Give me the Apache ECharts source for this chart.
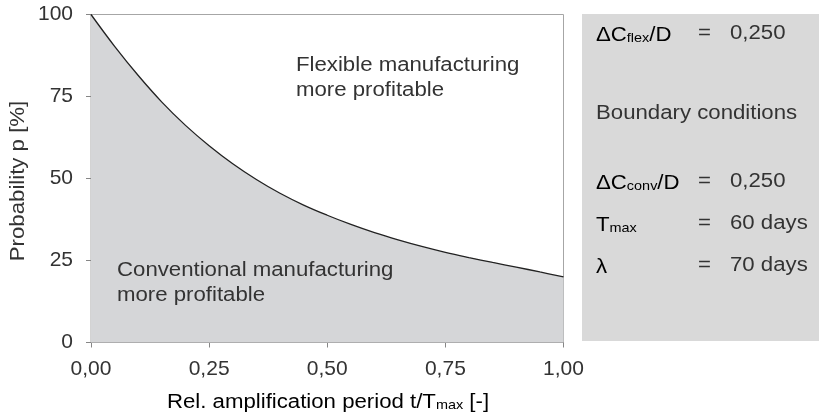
<!DOCTYPE html>
<html>
<head>
<meta charset="utf-8">
<script src="https://cdn.jsdelivr.net/npm/echarts@6/dist/echarts.min.js"></script>
<style>
  html, body { margin: 0; padding: 0; background: #fff; }
  #chart { width: 819px; height: 415px; }
</style>
</head>
<body>
<div id="chart"></div>
<script>
// Relative amplification period t/Tmax (x) and break-even probability p in % (y)
const periodRel = [0, 0.05, 0.10, 0.15, 0.20, 0.25, 0.30, 0.35, 0.40, 0.45, 0.50,
                   0.55, 0.60, 0.65, 0.70, 0.75, 0.80, 0.85, 0.90, 0.95, 1.00];
const probability = [100, 90.3, 81.4, 73.3, 66.2, 60.0, 54.5, 49.7, 45.5, 41.9, 38.8,
                     36.0, 33.5, 31.3, 29.3, 27.5, 25.9, 24.4, 23.0, 21.5, 20.0];

// Parameter box rows: label parts, value
const paramLabels = ['ΔC', 'ΔC', 'T', 'λ'];
const paramSubs = ['flex', 'conv', 'max', ''];
const paramSuffix = ['/D', '/D', '', ''];
const paramValues = ['0,250', '0,250', '60 days', '70 days'];

const FONT = '"Liberation Sans", Arial, sans-serif';
const TXT = '#333333';
const FS = 21;
const SX = 1.11;

const chart = echarts.init(document.getElementById('chart'), null, { renderer: 'canvas' });

const grid = { left: 91, right: 255.5, top: 14.5, bottom: 72.5 };

// main text plus lowered, smaller subscript fragments
const richSub = {
  m: { fontSize: FS - 1, fontFamily: FONT, color: TXT, lineHeight: 24, verticalAlign: 'bottom' },
  s: { fontSize: 13, fontFamily: FONT, color: TXT, lineHeight: 5, verticalAlign: 'bottom' }
};

function subText(i) {
  let t = '{m|' + paramLabels[i] + '}';
  if (paramSubs[i]) t += '{s|' + paramSubs[i] + '}';
  if (paramSuffix[i]) t += '{m|' + paramSuffix[i] + '}';
  return t;
}

function plainText(x, y, str, extra) {
  return Object.assign({
    type: 'text', x: x, y: y, scaleX: SX,
    style: { text: str, font: (FS - 1) + 'px ' + FONT, fill: TXT, verticalAlign: 'middle', lineHeight: 25 }
  }, extra || {});
}

const rowY = [33, 181, 223, 265];
const rowIdx = [0, 1, 2, 3];

const graphics = [
  // parameter panel
  { type: 'rect', shape: { x: 582, y: 14, width: 240, height: 327 }, style: { fill: '#d9d9d9' }, z: 0 },
  plainText(596, 113, 'Boundary conditions'),
  // region captions
  plainText(296, 78, 'Flexible manufacturing\nmore profitable', { z: 10 }),
  plainText(117, 283, 'Conventional manufacturing\nmore profitable', { z: 10 }),
  // axis titles
  { type: 'text', x: 18, y: 181, rotation: Math.PI / 2, scaleX: SX,
    style: { text: 'Probability p [%]', font: (FS - 1) + 'px ' + FONT, fill: TXT, align: 'center', verticalAlign: 'middle' } },
  { type: 'text', x: 328, y: 400, scaleX: SX, style: {
      text: '{m|Rel. amplification period t/T}{s|max}{m| [-]}', align: 'center', verticalAlign: 'middle',
      rich: richSub } }
];

rowIdx.forEach(function (i) {
  graphics.push({ type: 'text', x: 596, y: rowY[i], scaleX: SX, style: { text: subText(i), rich: richSub, verticalAlign: 'middle' } });
  graphics.push(plainText(698, rowY[i], '='));
  graphics.push(plainText(730, rowY[i], paramValues[i]));
});

const option = {
  animation: false,
  backgroundColor: '#ffffff',
  grid: Object.assign({ show: true, borderColor: '#a6a6a6', borderWidth: 1, backgroundColor: '#ffffff' }, grid),
  xAxis: {
    type: 'value', min: 0, max: 1, interval: 0.25,
    axisLine: { lineStyle: { color: '#868686', width: 1 } },
    axisTick: { show: true, length: 5, lineStyle: { color: '#868686' } },
    splitLine: { show: false },
    axisLabel: { fontSize: FS, fontFamily: FONT, color: TXT, margin: 16,
      formatter: function (v) { return v.toFixed(2).replace('.', ','); } }
  },
  yAxis: {
    type: 'value', min: 0, max: 100, interval: 25,
    axisLine: { show: true, lineStyle: { color: '#868686', width: 1 } },
    axisTick: { show: true, length: 5, lineStyle: { color: '#868686' } },
    splitLine: { show: false },
    axisLabel: { fontSize: FS, fontFamily: FONT, color: TXT, margin: 18 }
  },
  series: [{
    type: 'line',
    data: periodRel.map(function (t, i) { return [t, probability[i]]; }),
    smooth: 0.4,
    symbol: 'none',
    lineStyle: { color: '#222222', width: 1.3 },
    areaStyle: { color: '#d5d6d8', opacity: 1 },
    z: 3
  }],
  graphic: graphics
};

chart.setOption(option);
</script>
</body>
</html>
